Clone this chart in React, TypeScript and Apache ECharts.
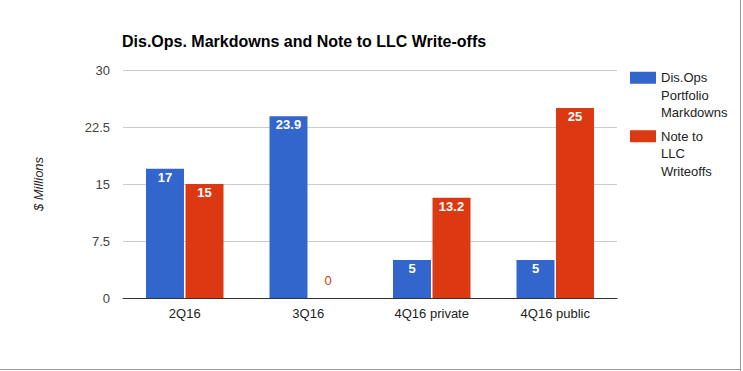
import React, { useEffect, useRef } from "react";
import * as echarts from "echarts";

const categories = ["2Q16", "3Q16", "4Q16 private", "4Q16 public"];
const markdowns = [17, 23.9, 5, 5];
const writeoffs = [15, 0, 13.2, 25];
const seriesNames = ["Dis.Ops Portfolio Markdowns", "Note to LLC Writeoffs"];
const legendLabels: Record<string, string> = {
  "Dis.Ops Portfolio Markdowns": "\n\nDis.Ops\nPortfolio\nMarkdowns",
  "Note to LLC Writeoffs": "\n\nNote to\nLLC\nWriteoffs",
};
const title = "Dis.Ops. Markdowns and Note to LLC Write-offs";
const yAxisName = "$ Millions";

const BLUE = "#3366cc";
const RED = "#dc3912";
const FONT = "'Liberation Sans', Arial, sans-serif";

export default function App() {
  const ref = useRef<HTMLDivElement>(null);
  useEffect(() => {
    if (!ref.current) return;
    const chart = echarts.init(ref.current, null, { renderer: "svg" });
    const mkData = (vals: number[], color: string) =>
      vals.map((v) =>
        v === 0
          ? {
              value: v,
              label: {
                position: "top",
                distance: 11,
                color: color,
                fontWeight: "normal",
              },
            }
          : { value: v }
      );
    const barLabel = {
      show: true,
      position: "insideTop",
      distance: 2,
      color: "#fff",
      fontWeight: "bold",
      fontSize: 13,
      fontFamily: FONT,
    };
    chart.setOption({
      animation: false,
      textStyle: { fontFamily: FONT },
      title: {
        text: title,
        left: 117,
        top: 28,
        textStyle: { fontFamily: FONT, fontSize: 16, fontWeight: "bold", color: "#000" },
      },
      legend: {
        orient: "vertical",
        left: 630,
        top: 34,
        padding: 0,
        itemWidth: 26,
        itemHeight: 12,
        itemGap: -29,
        icon: "rect",
        formatter: (n: string) => legendLabels[n] ?? n,
        textStyle: {
          fontFamily: FONT,
          fontSize: 13,
          color: "#222",
          lineHeight: 17.5,
        },
        data: seriesNames,
      },
      grid: { left: 123, right: 126, top: 70, bottom: 73, containLabel: false },
      xAxis: {
        type: "category",
        data: categories,
        axisTick: { show: false },
        axisLine: { lineStyle: { color: "#333", width: 1 } },
        axisLabel: { color: "#222", fontSize: 13, fontFamily: FONT, margin: 9 },
      },
      yAxis: {
        type: "value",
        min: 0,
        max: 30,
        interval: 7.5,
        name: yAxisName,
        nameLocation: "middle",
        nameGap: 78,
        nameTextStyle: { fontStyle: "italic", fontSize: 13, color: "#222", fontFamily: FONT },
        axisLine: { show: false },
        axisTick: { show: false },
        axisLabel: { color: "#444", fontSize: 13, fontFamily: FONT, margin: 13 },
        splitLine: { lineStyle: { color: "#cccccc" } },
      },
      series: [
        {
          name: seriesNames[0],
          type: "bar",
          data: mkData(markdowns, BLUE),
          itemStyle: { color: BLUE },
          barWidth: 38,
          barGap: "4%",
          label: barLabel,
        },
        {
          name: seriesNames[1],
          type: "bar",
          data: mkData(writeoffs, RED),
          itemStyle: { color: RED },
          barWidth: 38,
          barGap: "4%",
          label: barLabel,
        },
      ],
      graphic: [
        { type: "line", shape: { x1: 740.5, y1: 0, x2: 740.5, y2: 371 }, style: { stroke: "#999", lineWidth: 1 } },
        { type: "line", shape: { x1: 0, y1: 369.5, x2: 741, y2: 369.5 }, style: { stroke: "#999", lineWidth: 1 } },
      ],
    });
    return () => chart.dispose();
  }, []);
  return <div ref={ref} style={{ width: 743, height: 371, position: "absolute", left: 0, top: 0 }} />;
}
